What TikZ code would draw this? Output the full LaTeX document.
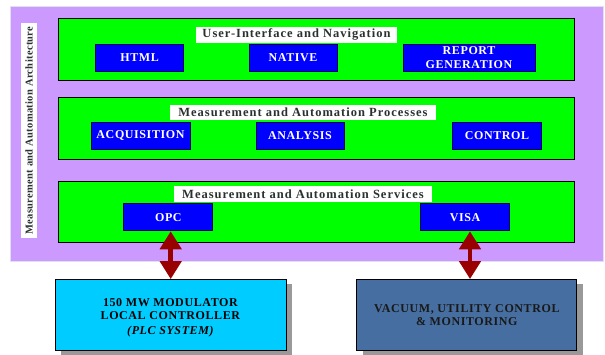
\documentclass[tikz,border=0pt]{standalone}
\usepackage{fontspec}
\setmainfont{Liberation Serif}
\newfontfamily\titlefont{Liberation Serif}[LetterSpace=8]
\newfontfamily\spacedfont{Liberation Serif}[LetterSpace=5]
\newfontfamily\vspacedfont{Liberation Serif}[LetterSpace=3]
\usetikzlibrary{arrows.meta,shadows,calc}
\definecolor{archpurple}{HTML}{CC99FF}
\definecolor{archborder}{HTML}{DDE3EE}
\definecolor{layergreen}{HTML}{00FF00}
\definecolor{modblue}{HTML}{0000FF}
\definecolor{modborder}{HTML}{000060}
\definecolor{plccyan}{HTML}{00CCFF}
\definecolor{vacblue}{HTML}{466EA0}
\definecolor{arrowred}{HTML}{990000}
\definecolor{titlegray}{HTML}{2A3230}
\begin{document}
\begin{tikzpicture}[x=1pt,y=-1pt,
  layer/.style={draw=black,line width=0.8pt,fill=layergreen},
  layertitle/.style={fill=white,inner sep=0pt,text=titlegray,font=\titlefont\bfseries\fontsize{12.5}{14}\selectfont},
  module/.style={draw=modborder,line width=0.9pt,fill=modblue,text=white,inner sep=0pt,align=center,
    font=\spacedfont\bfseries\fontsize{12}{14}\selectfont},
  system/.style={draw=black,line width=0.8pt,inner sep=0pt,align=center,
    font=\spacedfont\bfseries\fontsize{12}{13.5}\selectfont,
    drop shadow={shadow xshift=6pt,shadow yshift=-4pt,fill=black!40,opacity=1}},
  link/.style={arrowred,line width=4.5pt,{Triangle[width=21pt,length=18pt]}-{Triangle[width=21pt,length=18pt]}}
]
\useasboundingbox (0,0) rectangle (605,354);
% architecture background
\node[draw=archborder,line width=0.8pt,fill=archpurple,minimum width=593,minimum height=255,inner sep=0pt] (arch) at (306.5,133.5) {};
\node[fill=white,inner sep=0pt,minimum width=215,minimum height=16,rotate=90,text=titlegray,
  font=\vspacedfont\bfseries\fontsize{10.5}{12}\selectfont] (archlabel) at (29,130.5) {Measurement and Automation Architecture};
% layer 1
\node[layer,minimum width=516,minimum height=62,inner sep=0pt] (ui) at (316.5,49) {};
\node[layertitle,minimum width=201,minimum height=16] (uititle) at (296.5,34.5) {User-Interface and Navigation};
\node[module,minimum width=88,minimum height=27] (html) at (139.6,57.5) {HTML};
\node[module,minimum width=88,minimum height=27] (native) at (293,57.5) {NATIVE};
\node[module,minimum width=132,minimum height=27] (report) at (469,57.5) {REPORT\\GENERATION};
% layer 2
\node[layer,minimum width=516,minimum height=62,inner sep=0pt] (proc) at (316.5,128) {};
\node[layertitle,minimum width=266,minimum height=15] (proctitle) at (303,112) {Measurement and Automation Processes};
\node[module,minimum width=99,minimum height=27] (acq) at (140.5,135.5) {ACQUISITION};
\node[module,minimum width=88,minimum height=27] (analysis) at (300,135.5) {ANALYSIS};
\node[module,minimum width=89,minimum height=27] (control) at (497,135.5) {CONTROL};
% layer 3
\node[layer,minimum width=516,minimum height=61,inner sep=0pt] (serv) at (316.5,211.5) {};
\node[layertitle,minimum width=258,minimum height=16] (servtitle) at (303,194) {Measurement and Automation Services};
\node[module,minimum width=89,minimum height=27] (opc) at (168.4,217.3) {OPC};
\node[module,minimum width=89,minimum height=27] (visa) at (465,217.3) {VISA};
% external systems
\node[system,fill=plccyan,text=black,minimum width=231,minimum height=71] (plc) at (170.4,315)
  {\rule{0pt}{14pt}150 MW MODULATOR\\LOCAL CONTROLLER\\[1.5pt]\itshape (PLC SYSTEM)};
\node[system,fill=vacblue,text=black!90,minimum width=220,minimum height=71] (vac) at (466.8,315)
  {VACUUM, UTILITY CONTROL\\\& MONITORING};
% links
\coordinate (opcend) at ($(opc.south)+(2.3,0)$);
\coordinate (visaend) at ($(visa.south)+(5,0)$);
\draw[link] (opcend) -- (opcend |- plc.north);
\draw[link] (visaend) -- (visaend |- vac.north);
\end{tikzpicture}
\end{document}
